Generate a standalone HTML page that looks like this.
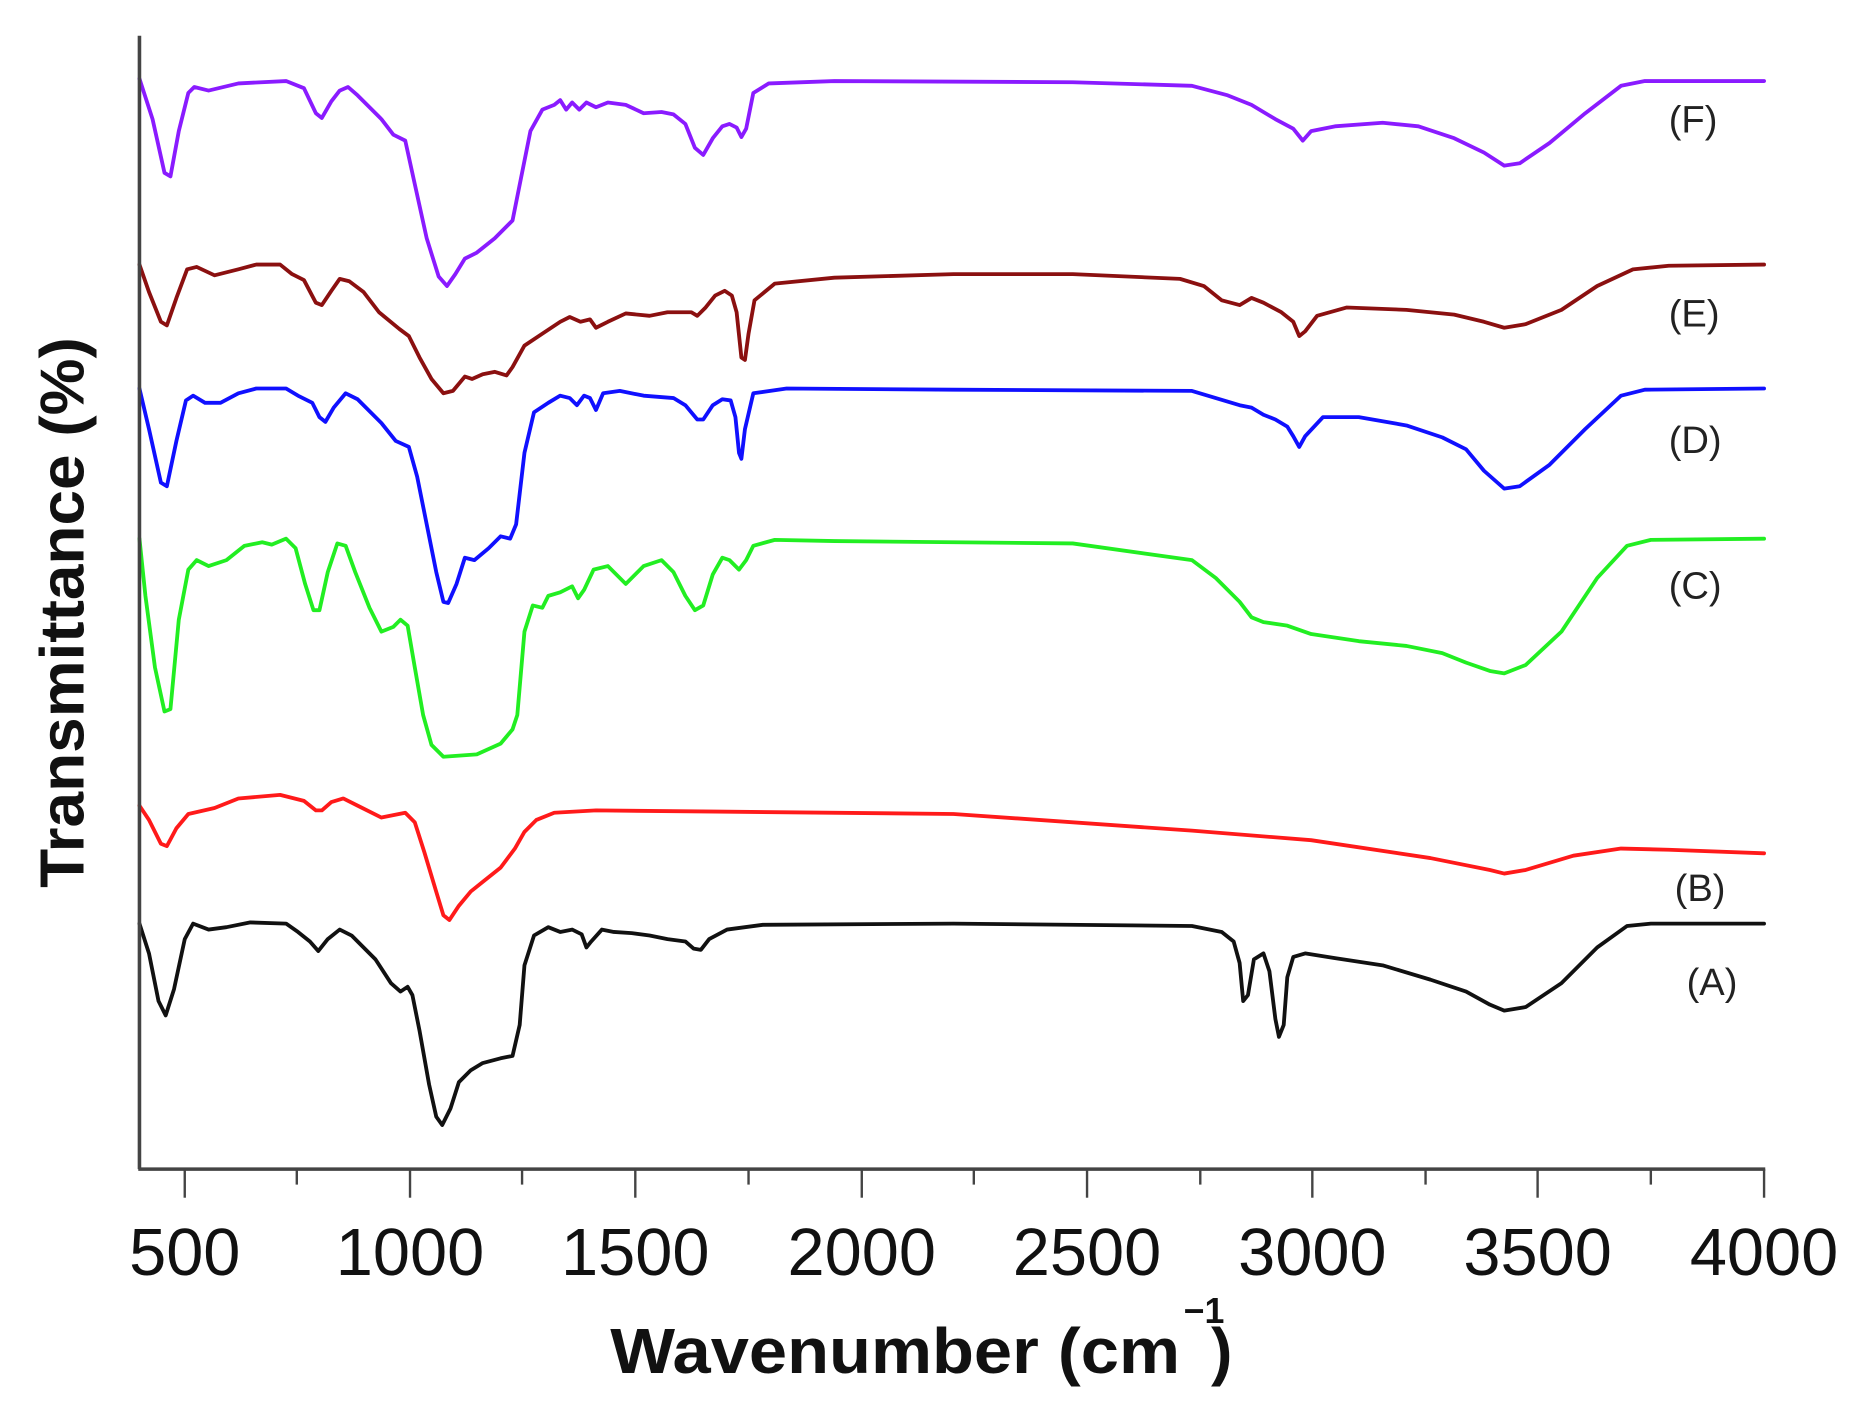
<!DOCTYPE html>
<html><head><meta charset="utf-8"><style>html,body{margin:0;padding:0;background:#fff}svg{display:block}</style></head>
<body>
<svg width="1863" height="1417" viewBox="0 0 1563 1189" preserveAspectRatio="none" xmlns="http://www.w3.org/2000/svg" font-family="Liberation Sans, sans-serif">
<rect width="1563" height="1189" fill="#fff"/>
<g fill="none" stroke-width="3.2" stroke-linejoin="round" stroke-linecap="round">
<polyline stroke="#8a1bff" points="117,66 128,100 138,145 143,148 150,110 158,78 163,73 175,76 200,70 240,68 255,74 265,95 270,99 278,85 285,76 292,73 300,80 320,100 330,113 340,118 347,150 358,200 368,232 375,240 382,230 390,217 400,212 415,200 430,185 437,150 445,110 455,92 465,88 470,84 475,92 480,86 486,92 492,86 500,90 510,86 525,88 540,95 555,94 565,96 575,104 583,124 590,130 598,116 606,106 612,104 618,107 622,115 626,108 632,78 645,70 700,68 900,69 1000,72 1030,80 1050,88 1070,100 1085,108 1093,118 1100,110 1120,106 1160,103 1190,106 1220,116 1245,128 1262,139 1275,137 1300,120 1330,95 1360,72 1380,68 1480,68"/>
<polyline stroke="#8b1010" points="117,222 125,245 135,270 140,273 148,250 157,226 165,224 180,231 200,226 215,222 235,222 245,230 255,235 265,254 270,256 278,244 285,234 293,236 305,245 318,262 335,276 343,282 352,300 362,318 372,330 380,328 390,316 396,318 405,314 415,312 425,315 430,308 440,290 455,280 470,270 478,266 487,270 495,268 500,275 510,270 525,263 545,265 560,262 580,262 585,265 592,258 600,248 608,244 614,248 618,262 622,300 625,302 628,280 633,252 650,238 700,233 800,230 900,230 990,234 1010,240 1025,252 1040,256 1050,250 1060,254 1075,262 1085,270 1090,282 1095,278 1105,265 1130,258 1180,260 1220,264 1245,270 1262,275 1280,272 1310,260 1340,240 1370,226 1400,223 1480,222"/>
<polyline stroke="#1010ff" points="117,326 125,360 135,405 140,408 148,370 156,336 162,332 172,338 185,338 200,330 215,326 240,326 250,332 262,338 268,350 273,354 280,342 290,330 300,335 320,355 332,370 343,375 350,400 358,440 366,480 372,505 376,506 383,490 390,468 398,470 410,460 420,450 428,452 433,440 440,380 448,346 460,338 470,332 478,334 484,340 490,332 495,334 500,344 506,330 520,328 540,332 565,334 575,340 585,352 590,352 598,340 606,335 613,336 617,350 620,380 622,385 625,360 632,330 660,326 800,327 1000,328 1020,334 1040,340 1050,342 1060,348 1070,352 1080,358 1085,366 1090,375 1095,366 1110,350 1140,350 1180,357 1210,367 1230,377 1245,395 1262,410 1275,408 1300,390 1330,360 1360,332 1380,327 1480,326"/>
<polyline stroke="#22ee22" points="117,452 122,500 130,560 138,597 143,595 150,520 158,478 165,470 175,475 190,470 205,458 220,455 228,457 240,452 248,460 256,490 263,512 268,512 275,480 283,456 290,458 298,480 310,510 320,530 330,526 336,520 342,525 348,560 355,600 362,625 372,635 400,633 420,624 430,612 434,600 440,530 447,508 455,510 460,500 470,497 480,492 485,502 490,495 498,478 510,475 525,490 540,475 555,470 565,480 575,500 583,512 590,508 598,482 606,468 612,470 620,478 626,470 632,458 650,453 700,454 800,455 900,456 1000,470 1020,485 1040,505 1050,518 1060,522 1080,525 1100,532 1140,538 1180,542 1210,548 1230,556 1250,563 1262,565 1280,558 1310,530 1340,485 1365,458 1385,453 1480,452"/>
<polyline stroke="#ff1a1a" points="117,676 125,688 135,708 140,710 148,695 158,683 180,678 200,670 235,667 255,672 265,680 270,680 278,673 288,670 300,676 320,686 330,684 340,682 348,690 356,715 365,745 372,768 377,772 385,760 395,748 405,740 420,728 432,712 440,698 450,688 465,682 500,680 600,681 800,683 1000,697 1100,705 1200,720 1250,730 1262,733 1280,730 1320,718 1360,712 1400,713 1480,716"/>
<polyline stroke="#111" points="117,775 125,800 133,840 139,852 146,830 155,788 162,775 175,780 190,778 210,774 240,775 250,782 260,790 267,798 275,788 285,780 295,785 315,805 328,825 336,832 342,828 346,835 352,865 360,910 366,937 371,944 378,930 385,908 395,898 405,892 420,888 430,886 436,860 440,810 448,785 460,778 470,782 480,780 488,784 492,795 496,790 505,780 515,782 530,783 545,785 560,788 575,790 582,796 588,797 595,788 610,780 640,776 800,775 1000,777 1025,782 1035,790 1040,808 1043,840 1047,835 1052,805 1060,800 1065,815 1070,855 1073,870 1077,860 1080,820 1085,803 1095,800 1120,804 1160,810 1200,822 1230,832 1250,843 1262,848 1280,845 1310,825 1340,795 1365,777 1385,775 1480,775"/>
</g>
<g stroke="#444" stroke-width="3">
<line x1="117" y1="30" x2="117" y2="981"/>
<line x1="116" y1="981" x2="1481" y2="981"/>
<g stroke-width="2">
<line x1="155" y1="981" x2="155" y2="1005"/><line x1="249" y1="981" x2="249" y2="994"/>
<line x1="344" y1="981" x2="344" y2="1005"/><line x1="438" y1="981" x2="438" y2="994"/>
<line x1="533" y1="981" x2="533" y2="1005"/><line x1="628" y1="981" x2="628" y2="994"/>
<line x1="723" y1="981" x2="723" y2="1005"/><line x1="817" y1="981" x2="817" y2="994"/>
<line x1="912" y1="981" x2="912" y2="1005"/><line x1="1007" y1="981" x2="1007" y2="994"/>
<line x1="1101" y1="981" x2="1101" y2="1005"/><line x1="1196" y1="981" x2="1196" y2="994"/>
<line x1="1290" y1="981" x2="1290" y2="1005"/><line x1="1385" y1="981" x2="1385" y2="994"/>
<line x1="1480" y1="981" x2="1480" y2="1005"/>
</g></g>
<g font-size="56" text-anchor="middle" fill="#111">
<text x="155" y="1070">500</text><text x="344" y="1070">1000</text><text x="533" y="1070">1500</text><text x="723" y="1070">2000</text><text x="912" y="1070">2500</text><text x="1101" y="1070">3000</text><text x="1290" y="1070">3500</text><text x="1480" y="1070">4000</text>
</g>
<text x="512" y="1152" font-size="54" font-weight="bold" fill="#111" textLength="478" lengthAdjust="spacingAndGlyphs">Wavenumber (cm</text>
<text x="993" y="1110" font-size="30" font-weight="bold" fill="#111">−1</text>
<text x="1016" y="1152" font-size="54" font-weight="bold" fill="#111">)</text>
<text transform="translate(70,514) rotate(-90)" text-anchor="middle" font-size="52" font-weight="bold" fill="#111" textLength="462" lengthAdjust="spacingAndGlyphs">Transmittance (%)</text>
<g font-size="32" fill="#222">
<text x="1400" y="111">(F)</text><text x="1400" y="274">(E)</text><text x="1400" y="380">(D)</text><text x="1400" y="502">(C)</text><text x="1405" y="756">(B)</text><text x="1415" y="835">(A)</text>
</g>
</svg>
</body></html>
